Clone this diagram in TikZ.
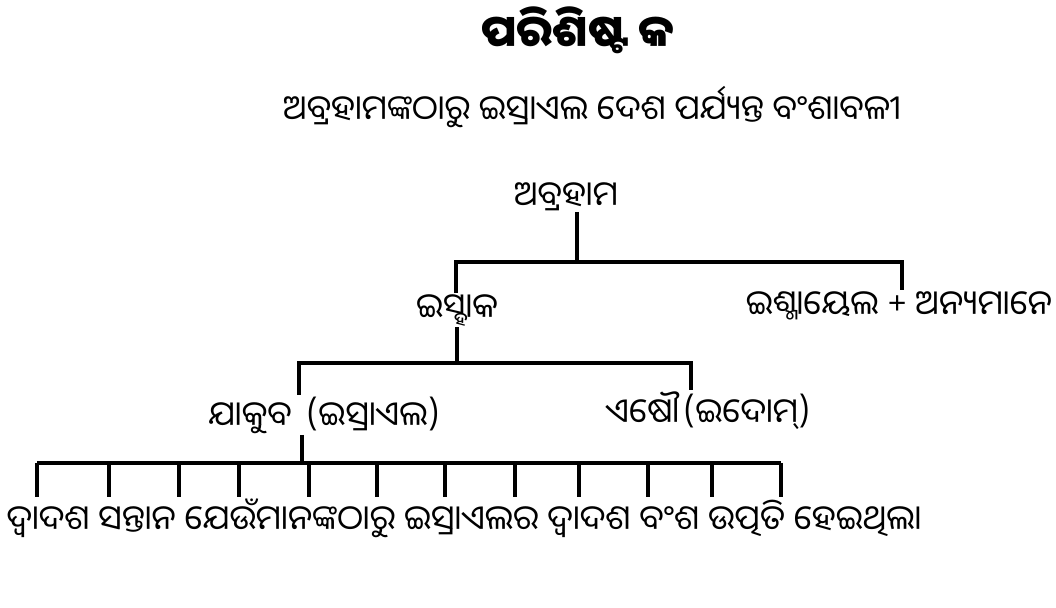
\documentclass[tikz,border=0pt]{standalone}
\usepackage{fontspec}
\newfontfamily\oriya[Script=Oriya]{Noto Sans Oriya UI}
\usetikzlibrary{positioning}

\begin{document}
\begin{tikzpicture}[x=0.75pt, y=-0.75pt,
    person/.style={font=\oriya\fontsize{25.5}{30}\selectfont, inner sep=1pt, anchor=base},
    line/.style={line width=2.5pt}]
\useasboundingbox (0,0) rectangle (1056,607);

\node[person, font=\oriya\bfseries\fontsize{33}{40}\selectfont] (title) at (578,50) {ପରିଶିଷ୍ଟ କ};
\node[person] (subtitle) at (592,122) {ଅବ୍ରହାମଙ୍କଠାରୁ ଇସ୍ରାଏଲ ଦେଶ ପର୍ଯ୍ୟନ୍ତ ବଂଶାବଳୀ};

\node[person] (abraham) at (566,208) {ଅବ୍ରହାମ};
\node[person] (isaac) at (457,320) {ଇସ୍ହାକ};
\node[person] (ishmael) at (899,317) {ଇଶ୍ମାୟେଲ + ଅନ୍ୟମାନେ};
\node[person] (jacob) at (324,428) {ଯାକୁବ\hspace{11pt}(ଇସ୍ରାଏଲ)};
\node[person] (esau) at (708,425) {ଏଷୌ\hspace{3pt}(ଇଦୋମ୍)};
\node[person] (sentence) at (464,532) {ଦ୍ୱାଦଶ ସନ୍ତାନ ଯେଉଁମାନଙ୍କଠାରୁ ଇସ୍ରାଏଲର ଦ୍ୱାଦଶ ବଂଶ ଉତ୍ପତି ହେଇଥିଲା};

% bars
\coordinate (bar1) at (577,262);
\coordinate (bar1l) at (456,262);
\coordinate (bar1r) at (902,262);
\coordinate (bar2) at (457,363);
\coordinate (bar2l) at (299,363);
\coordinate (bar2r) at (691,363);
\coordinate (bar3) at (302,463);

\draw[line] (abraham.south -| bar1) -- (bar1);
\draw[line] (bar1l |- isaac.north) -- (bar1l) -- (bar1r) -- (bar1r |- ishmael.north);
\draw[line] (isaac.south -| bar2) -- (bar2);
\draw[line] (bar2l |- jacob.north) -- (bar2l) -- (bar2r) -- (bar2r |- esau.north);
\draw[line] (jacob.south -| bar3) -- (bar3);

\draw[line] (37,463) -- (781,463);
\foreach \x [count=\i] in {37,109,179,239,309,377,445,515,579,648,712,781} {
    \coordinate (son\i) at (\x,463);
    \draw[line] (son\i) -- (son\i |- sentence.north);
}
\end{tikzpicture}
\end{document}
